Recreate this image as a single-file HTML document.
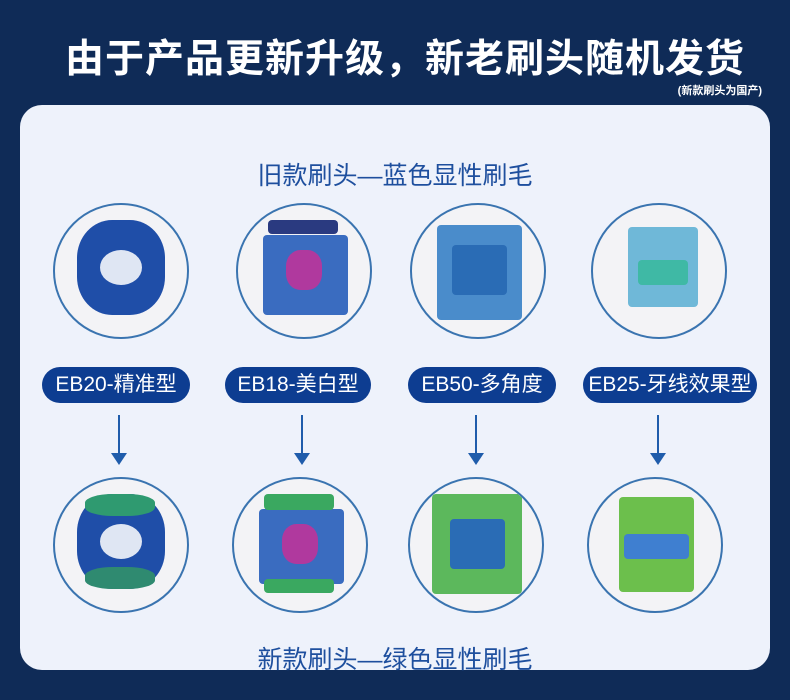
<!DOCTYPE html>
<html><head><meta charset="utf-8"><style>
body{margin:0;width:790px;height:700px;background:#0f2b57;position:relative;overflow:hidden;font-family:"Liberation Sans","Noto Sans CJK SC",sans-serif}
.t{position:absolute;left:0;width:810px;text-align:center;top:28px;color:#fff;font-size:39px;font-weight:bold;letter-spacing:1px}
.s{position:absolute;right:28px;top:82px;color:#fff;font-size:11px;font-weight:bold}
.card{position:absolute;left:20px;top:105px;width:750px;height:565px;background:#eef2fb;border-radius:22px}
.h{position:absolute;left:0;width:790px;text-align:center;color:#1e4f9e;font-size:25px}
.c{position:absolute;width:132px;height:132px;border-radius:50%;border:2px solid #3a74b0;background:#f3f3f6;overflow:hidden}
.p{position:absolute;top:367px;height:36px;border-radius:18px;background:#0d3d91;color:#fff;font-size:21px;line-height:36px;text-align:center}
.a{position:absolute;width:2px;background:#1f5cab;top:415px;height:40px}
.a:after{content:"";position:absolute;left:-7px;bottom:-10px;border-left:8px solid transparent;border-right:8px solid transparent;border-top:12px solid #1f5cab}
.b{position:absolute;border-radius:4px}
</style></head><body>
<div class="t">由于产品更新升级，新老刷头随机发货</div>
<div class="s">(新款刷头为国产)</div>
<div class="card"></div>
<div class="h" style="top:156px">旧款刷头—蓝色显性刷毛</div>
<div class="h" style="top:640px">新款刷头—绿色显性刷毛</div>

<div class="c" style="left:53px;top:203px"><div class="b" style="left:22px;top:15px;width:88px;height:95px;border-radius:40%;background:#1f4ea8"></div><div class="b" style="left:45px;top:45px;width:42px;height:35px;background:#dfe6f3;border-radius:50%"></div></div>
<div class="c" style="left:236px;top:203px"><div class="b" style="left:25px;top:30px;width:85px;height:80px;background:#3a6cc0"></div><div class="b" style="left:48px;top:45px;width:36px;height:40px;background:#b0399e;border-radius:40%"></div><div class="b" style="left:30px;top:15px;width:70px;height:14px;background:#2a3a80"></div></div>
<div class="c" style="left:410px;top:203px"><div class="b" style="left:25px;top:20px;width:85px;height:95px;background:#4a8ccb"></div><div class="b" style="left:40px;top:40px;width:55px;height:50px;background:#2a6cb5"></div></div>
<div class="c" style="left:591px;top:203px"><div class="b" style="left:35px;top:22px;width:70px;height:80px;background:#6fb8d8"></div><div class="b" style="left:45px;top:55px;width:50px;height:25px;background:#3fb9a5"></div></div>

<div class="p" style="left:42px;width:148px">EB20-精准型</div>
<div class="p" style="left:225px;width:146px">EB18-美白型</div>
<div class="p" style="left:408px;width:148px">EB50-多角度</div>
<div class="p" style="left:583px;width:174px">EB25-牙线效果型</div>

<div class="a" style="left:118px"></div>
<div class="a" style="left:301px"></div>
<div class="a" style="left:475px"></div>
<div class="a" style="left:657px"></div>

<div class="c" style="left:53px;top:477px"><div class="b" style="left:22px;top:15px;width:88px;height:95px;border-radius:40%;background:#1f4ea8"></div><div class="b" style="left:30px;top:15px;width:70px;height:22px;background:#2f9a70;border-radius:40%"></div><div class="b" style="left:30px;top:88px;width:70px;height:22px;background:#2f8a70;border-radius:40%"></div><div class="b" style="left:45px;top:45px;width:42px;height:35px;background:#dfe6f3;border-radius:50%"></div></div>
<div class="c" style="left:232px;top:477px"><div class="b" style="left:25px;top:30px;width:85px;height:75px;background:#3a6cc0"></div><div class="b" style="left:48px;top:45px;width:36px;height:40px;background:#b0399e;border-radius:40%"></div><div class="b" style="left:30px;top:15px;width:70px;height:16px;background:#3aa860"></div><div class="b" style="left:30px;top:100px;width:70px;height:14px;background:#3aa860"></div></div>
<div class="c" style="left:408px;top:477px"><div class="b" style="left:22px;top:15px;width:90px;height:100px;background:#5cb85c"></div><div class="b" style="left:40px;top:40px;width:55px;height:50px;background:#2a6cb5"></div></div>
<div class="c" style="left:587px;top:477px"><div class="b" style="left:30px;top:18px;width:75px;height:95px;background:#6cbf4c"></div><div class="b" style="left:35px;top:55px;width:65px;height:25px;background:#3f7fd0"></div></div>
</body></html>
